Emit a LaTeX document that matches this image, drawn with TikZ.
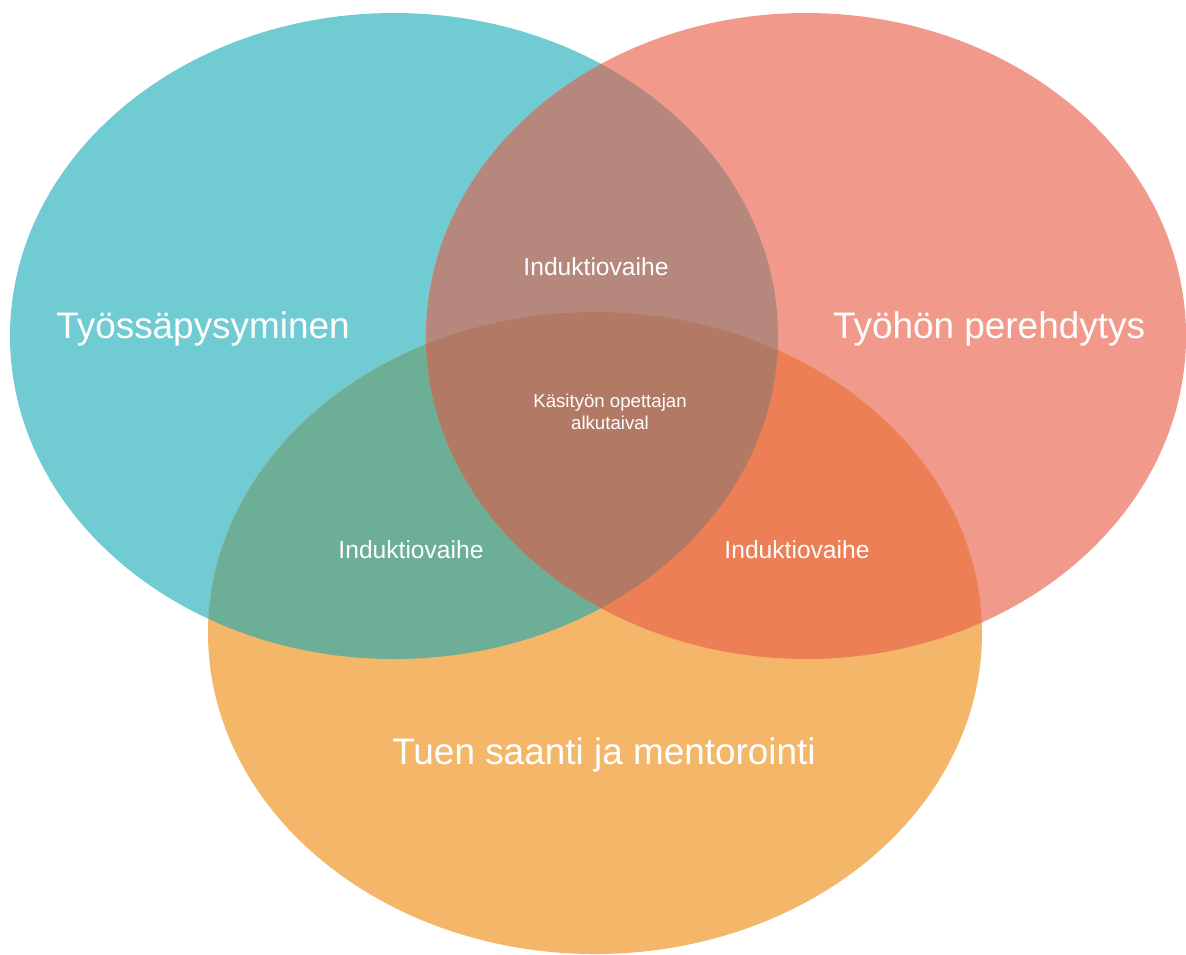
\documentclass[tikz,border=0pt]{standalone}
\usepackage{fontspec}
\setmainfont{Liberation Sans}
\definecolor{tealc}{HTML}{71CBD3}
\definecolor{salmonc}{HTML}{F19A8C}
\definecolor{orangec}{HTML}{F4B76A}
\definecolor{tealsalmon}{HTML}{B6887D}
\definecolor{tealorange}{HTML}{6DAE97}
\definecolor{salmonorange}{HTML}{EC7F55}
\definecolor{allthree}{HTML}{B27A65}

\begin{document}
\begin{tikzpicture}[x=0.01cm, y=-0.01cm,
    biglabel/.style={text=white, font=\fontsize{10.5}{12.5}\selectfont},
    smalllabel/.style={text=white, font=\fontsize{7}{8.5}\selectfont},
    centerlabel/.style={text=white, font=\fontsize{5.3}{6.2}\selectfont, align=center}]

    \useasboundingbox (0,0) rectangle (1186,954);

    \def\tyo{(394,336) ellipse [x radius=384, y radius=323]}
    \def\pere{(806,336) ellipse [x radius=380, y radius=323]}
    \def\tuki{(595,633) ellipse [x radius=387, y radius=321]}

    \fill[tealc] \tyo;
    \fill[salmonc] \pere;
    \fill[orangec] \tuki;

    \begin{scope}
        \clip \tyo;
        \fill[tealsalmon] \pere;
        \fill[tealorange] \tuki;
    \end{scope}
    \begin{scope}
        \clip \pere;
        \fill[salmonorange] \tuki;
    \end{scope}
    \begin{scope}
        \clip \tyo;
        \clip \pere;
        \fill[allthree] \tuki;
    \end{scope}

    \node[biglabel] (tyossa) at (203,329) {Työssäpysyminen};
    \node[biglabel] (perehdytys) at (989,329) {Työhön perehdytys};
    \node[biglabel] (tuen) at (604,755) {Tuen saanti ja mentorointi};

    \node[smalllabel] (indA) at (596,267) {Induktiovaihe};
    \node[smalllabel] (indB) at (411,550) {Induktiovaihe};
    \node[smalllabel] (indC) at (797,550) {Induktiovaihe};

    \node[centerlabel] (alku) at (610,412) {Käsityön opettajan\\alkutaival};

\end{tikzpicture}
\end{document}
